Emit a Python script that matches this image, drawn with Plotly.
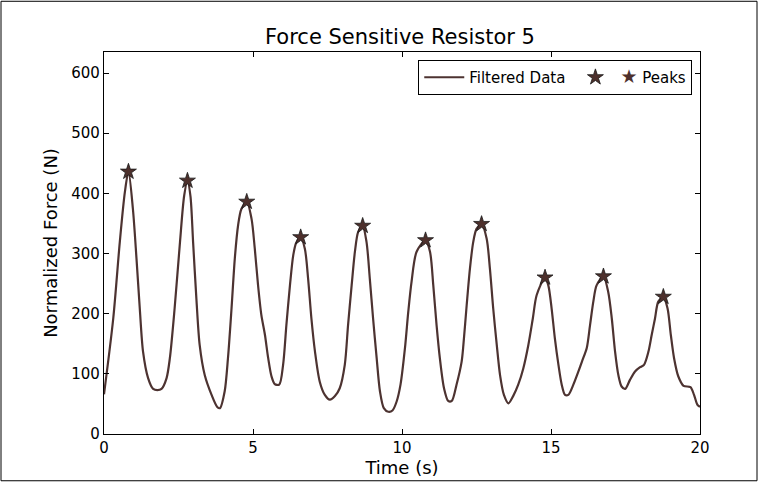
import plotly.graph_objects as go

# Filtered force signal (time in s, force in N)
time_s = [0.00, 0.31, 0.53, 0.70, 0.82, 0.97, 1.09, 1.20, 1.31, 1.48, 1.65, 1.79, 1.93,
          2.10, 2.21, 2.37, 2.55, 2.69, 2.80, 2.90, 2.99, 3.10, 3.21, 3.38, 3.61, 3.80,
          3.89, 4.05, 4.16, 4.28, 4.39, 4.50, 4.61, 4.79, 4.95, 5.06, 5.17, 5.28, 5.40,
          5.51, 5.62, 5.73, 5.88, 6.01, 6.12, 6.24, 6.35, 6.45, 6.60, 6.74, 6.85, 6.96,
          7.08, 7.24, 7.41, 7.58, 7.75, 7.91, 8.08, 8.19, 8.31, 8.42, 8.53, 8.68, 8.81,
          8.92, 9.03, 9.15, 9.26, 9.39, 9.54, 9.68, 9.82, 9.95, 10.10, 10.21, 10.32,
          10.49, 10.79, 10.94, 11.05, 11.16, 11.27, 11.41, 11.55, 11.67, 11.83, 12.00,
          12.06, 12.17, 12.28, 12.39, 12.50, 12.67, 12.84, 12.95, 13.06, 13.18, 13.29,
          13.42, 13.57, 13.73, 13.90, 14.07, 14.24, 14.39, 14.52, 14.80, 14.91, 15.02,
          15.13, 15.25, 15.36, 15.47, 15.58, 15.75, 15.92, 16.05, 16.20, 16.31, 16.42,
          16.53, 16.76, 16.92, 17.04, 17.15, 17.26, 17.37, 17.49, 17.65, 17.82, 17.99,
          18.12, 18.27, 18.38, 18.49, 18.60, 18.77, 18.91, 19.02, 19.13, 19.27, 19.45,
          19.68, 19.80, 19.91, 20.00]
force_n = [66, 192, 319, 402, 436, 374, 292, 209, 137, 93, 75, 73, 75,
           93, 126, 209, 319, 396, 421, 396, 319, 225, 148, 98, 65, 45,
           43, 71, 126, 209, 292, 347, 374, 386, 358, 308, 247, 198, 165,
           126, 96, 83, 82, 115, 181, 247, 297, 318, 327, 308, 258, 192,
           137, 87, 65, 57, 63, 76, 115, 181, 247, 303, 336, 346, 319,
           258, 192, 126, 71, 43, 37, 39, 54, 82, 143, 203, 253,
           303, 322, 303, 247, 181, 126, 76, 55, 55, 82, 120,
           148, 214, 275, 319, 341, 349, 325, 275, 209, 148, 98,
           65, 51, 63, 82, 109, 148, 192, 231, 260, 247, 209,
           159, 115, 82, 65, 65, 82, 104, 122, 143, 181, 220,
           247, 262, 236, 192, 137, 98, 79, 75, 90, 104, 111,
           115, 137, 165, 192, 220, 228, 209, 165, 126, 96, 80,
           78, 65, 49, 45]

# Detected peaks
peak_time = [0.82, 2.80, 4.79, 6.60, 8.68, 10.79, 12.67, 14.80, 16.76, 18.77]
peak_force = [436, 421, 386, 327, 346, 322, 349, 260, 262, 228]

LINE_COLOR = "#4d3331"
FONT = "DejaVu Sans"

fig = go.Figure()
fig.add_trace(go.Scatter(
    x=time_s, y=force_n, mode="lines", name="Filtered Data",
    line=dict(color=LINE_COLOR, width=2.2, shape="spline", smoothing=0.8),
))
fig.add_trace(go.Scatter(
    x=peak_time, y=peak_force, mode="markers",
    name='<span style="color:#4d302c;font-size:19px">★</span> Peaks',
    marker=dict(symbol="star", size=12, color="#4d302c",
                line=dict(color="#1a1a1a", width=0.8)),
))

W, H = 767, 484
ml, mr, mt, mb = 104, 67, 52, 48
pw, ph = W - ml - mr, H - mt - mb

def px2paper(px, py):
    return (px - ml) / pw, (H - mb - py) / ph

x0, y0 = px2paper(1, 483)
x1, y1 = px2paper(757, 1)
fig.add_shape(type="rect", xref="paper", yref="paper", x0=x0, y0=y0, x1=x1, y1=y1,
              line=dict(color="black", width=1), fillcolor="rgba(0,0,0,0)", layer="below")

axis_common = dict(showline=True, linecolor="black", linewidth=1.2, mirror="ticks",
                   ticks="inside", ticklen=5, tickcolor="black", showgrid=False,
                   zeroline=False, tickfont=dict(family=FONT, size=15, color="black"))

fig.update_layout(
    width=W, height=H,
    margin=dict(l=ml, r=mr, t=mt, b=mb),
    paper_bgcolor="white", plot_bgcolor="white",
    font=dict(family=FONT, color="black"),
    title=dict(text="Force Sensitive Resistor 5", x=400 / W, xanchor="center",
               y=1 - 37 / H, yanchor="middle", font=dict(family=FONT, size=21)),
    xaxis=dict(range=[0, 20], dtick=5, tick0=0,
               title=dict(text="Time (s)", font=dict(family=FONT, size=18), standoff=2),
               **axis_common),
    yaxis=dict(range=[0, 635], dtick=100, tick0=0,
               title=dict(text="Normalized Force (N)", font=dict(family=FONT, size=18), standoff=8),
               **axis_common),
    legend=dict(orientation="h", x=0.987, xanchor="right", y=0.979, yanchor="top",
                bordercolor="black", borderwidth=1, bgcolor="white",
                font=dict(family=FONT, size=15), itemwidth=40, tracegroupgap=0),
    showlegend=True,
)

fig.write_html("out.html", config={"displayModeBar": False},
               post_script="document.body.style.margin='0px';")
